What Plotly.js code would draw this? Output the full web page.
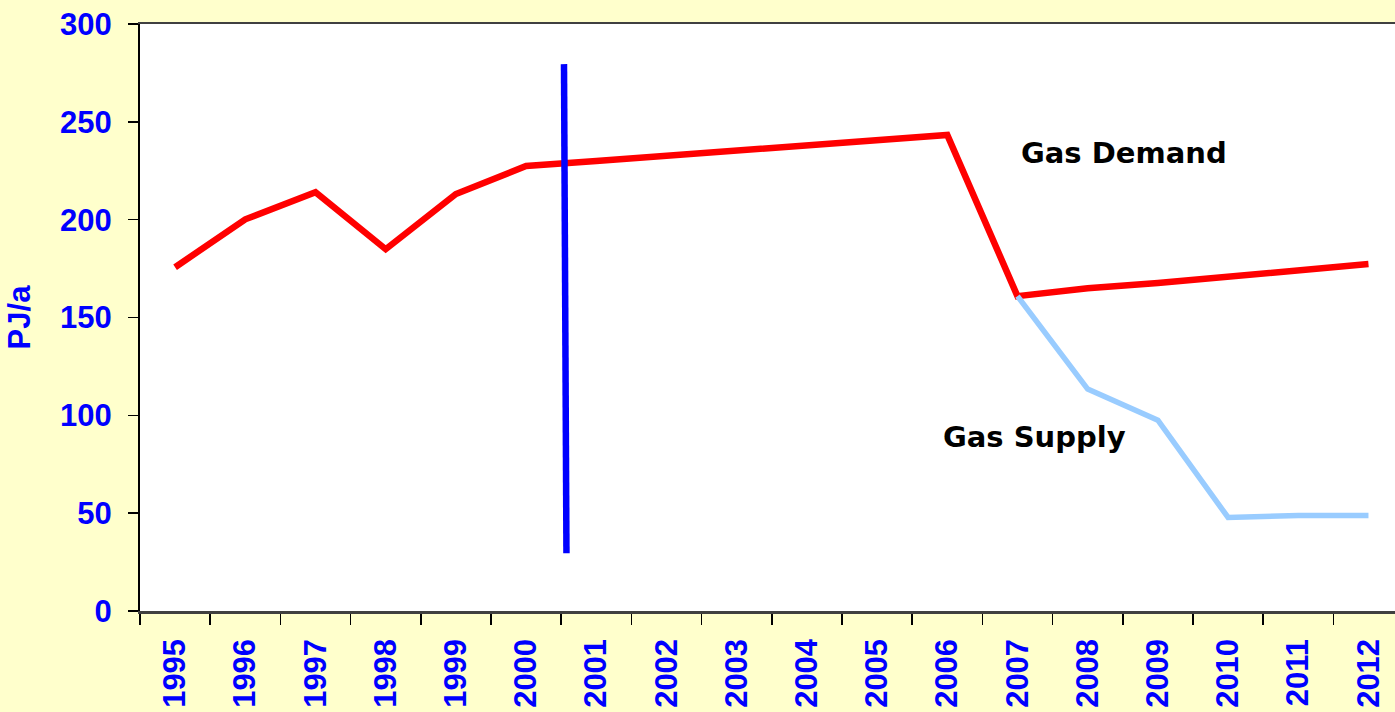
<!DOCTYPE html>
<html>
<head>
<meta charset="utf-8">
<script src="https://cdn.plot.ly/plotly-3.0.1.min.js"></script>
<style>
html,body{margin:0;padding:0;background:#FFFFCC;}
#chart{width:1395px;height:712px;}
</style>
</head>
<body>
<div id="chart"></div>
<script>
const years = ['1995','1996','1997','1998','1999','2000','2001','2002','2003','2004','2005','2006','2007','2008','2009','2010','2011','2012'];
const gasDemand = [175.7, 200.2, 214, 184.9, 213.1, 227.4, 230, 232.6, 235.2, 238, 240.6, 243.3, 160.9, 165, 167.6, 170.6, 174.2, 177.3];
const supplyYears = ['2007','2008','2009','2010','2011','2012'];
const gasSupply = [160.9, 113.4, 97.5, 47.8, 48.8, 48.8];
// vertical marker line (position in category units, 0 = 1995)
const markerX = [5.54, 5.575];
const markerY = [279.5, 29.5];
const yTicks = [0, 50, 100, 150, 200, 250, 300];
const labelDemand = {text: 'Gas Demand', x: 13.52, y: 234};
const labelSupply = {text: 'Gas Supply', x: 12.24, y: 88.8};

const xRange = [-0.5, 17.378];
const tickFont = {family: 'Liberation Sans, Arial, sans-serif', size: 31, color: '#0000FF', weight: 'bold'};

const traces = [
  {x: years, y: gasDemand, type: 'scatter', mode: 'lines', name: 'Gas Demand',
   line: {color: '#FF0000', width: 6.5}, hoverinfo: 'x+y'},
  {x: supplyYears, y: gasSupply, type: 'scatter', mode: 'lines', name: 'Gas Supply',
   line: {color: '#99CCFF', width: 5.5}, hoverinfo: 'x+y'},
  {x: markerX, y: markerY, type: 'scatter', mode: 'lines', xaxis: 'x2',
   line: {color: '#0000FF', width: 6.5}, hoverinfo: 'skip', showlegend: false}
];

const annFont = {family: 'DejaVu Sans, sans-serif', size: 29, color: '#000000', weight: 'bold'};

const layout = {
  width: 1395, height: 712,
  margin: {l: 140, r: 0, t: 24, b: 101, pad: 0},
  paper_bgcolor: '#FFFFCC',
  plot_bgcolor: '#FFFFFF',
  showlegend: false,
  xaxis: {
    type: 'category', range: xRange, tickson: 'boundaries',
    ticks: 'outside', ticklen: 11, tickwidth: 1.5, tickcolor: '#000000',
    showline: true, linecolor: '#404040', linewidth: 2.5, mirror: true,
    showgrid: false, zeroline: false, tickangle: -90,
    tickfont: tickFont, ticklabelstandoff: 13, fixedrange: true
  },
  xaxis2: {
    overlaying: 'x', range: xRange, visible: false, fixedrange: true
  },
  yaxis: {
    range: [0, 300], tickvals: yTicks, ticktext: yTicks.map(String),
    ticks: 'outside', ticklen: 10, tickwidth: 1.5, tickcolor: '#000000',
    showline: true, linecolor: '#000000', linewidth: 2,
    showgrid: false, zeroline: false,
    tickfont: tickFont, ticklabelstandoff: 10,
    title: {text: 'PJ/a', font: tickFont, standoff: 20},
    fixedrange: true
  },
  annotations: [
    {text: labelDemand.text, x: labelDemand.x, y: labelDemand.y, xref: 'x2', yref: 'y',
     showarrow: false, font: annFont, xanchor: 'center', yanchor: 'middle'},
    {text: labelSupply.text, x: labelSupply.x, y: labelSupply.y, xref: 'x2', yref: 'y',
     showarrow: false, font: annFont, xanchor: 'center', yanchor: 'middle'}
  ]
};

Plotly.newPlot('chart', traces, layout, {displayModeBar: false, staticPlot: true});
</script>
</body>
</html>
